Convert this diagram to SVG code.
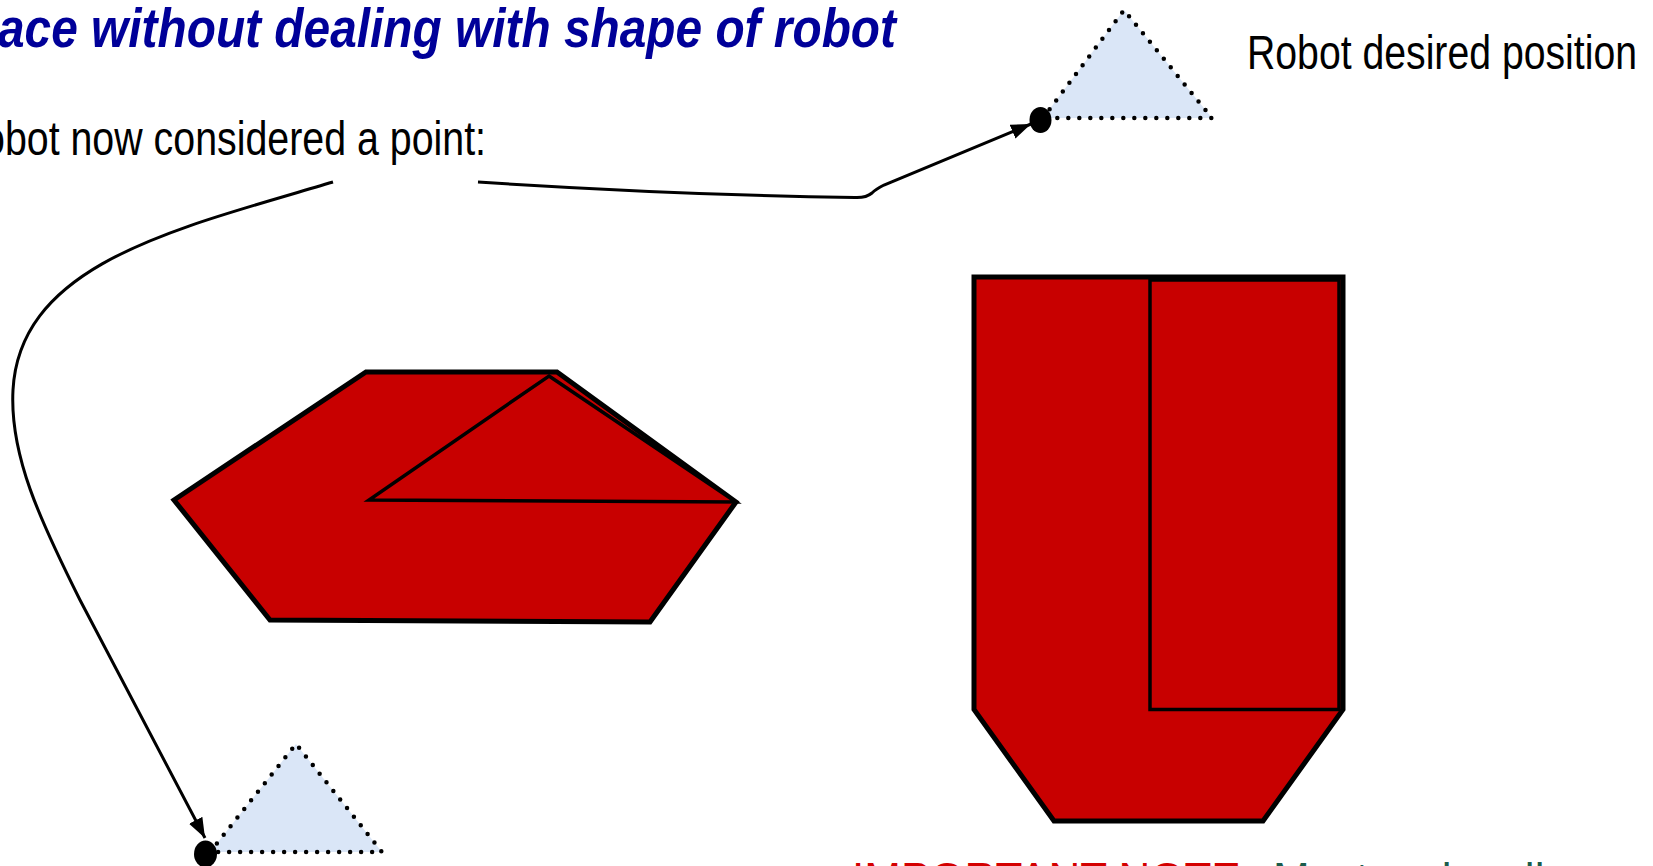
<svg xmlns="http://www.w3.org/2000/svg" width="1653" height="866" viewBox="0 0 1653 866">
<style>
.obst{fill:#C80000;stroke:#000;stroke-linejoin:miter}
.robot{fill:#DAE6F7;stroke:#000;stroke-width:4.5;stroke-dasharray:0 11;stroke-linecap:round}
.dot{fill:#000}
.conn{fill:none;stroke:#000;stroke-width:3}
.t{font-family:"Liberation Sans",Arial,sans-serif}
</style>
<defs>
<marker id="arr" markerUnits="userSpaceOnUse" markerWidth="24" markerHeight="18" refX="20" refY="7.5" orient="auto">
<path d="M0,0 L20,7.5 L0,15 Z" fill="#000"/>
</marker>
</defs>
<rect width="1653" height="866" fill="#fff"/>
<g id="title">
<text class="t" x="-2" y="47" font-size="56" font-weight="bold" font-style="italic" fill="#000099" textLength="898" lengthAdjust="spacingAndGlyphs">ace without dealing with shape of robot</text>
</g>
<g id="label-point">
<text class="t" x="-17" y="155" font-size="48" fill="#000" textLength="503" lengthAdjust="spacingAndGlyphs">obot now considered a point:</text>
</g>
<g id="label-desired">
<text class="t" x="1247" y="69" font-size="48" fill="#000" textLength="390" lengthAdjust="spacingAndGlyphs">Robot desired position</text>
</g>
<g id="obstacle-hexagon">
<polygon class="obst" stroke-width="5" points="366,372 557,372 736,502 650,622 270,620 174,500"/>
<polygon class="obst" stroke-width="3.5" points="549,376 736,502 369,500"/>
</g>
<g id="obstacle-u">
<polygon class="obst" stroke-width="5" points="974,277 1343,277 1343,709.5 1263,821 1054,821 974,709.5"/>
<rect class="obst" stroke-width="3.5" x="1150" y="280" width="189" height="429.5"/>
</g>
<g id="robot-desired">
<polygon class="robot" points="1043,118 1124,10 1212,118"/>
<ellipse class="dot" cx="1040.5" cy="120" rx="11" ry="13"/>
</g>
<g id="robot-start">
<polygon class="robot" points="210,852 296,744 382,852"/>
<ellipse class="dot" cx="205.5" cy="854" rx="11.5" ry="13.5"/>
</g>
<g id="connectors">
<path class="conn" marker-end="url(#arr)" d="M478,182 Q680,195 855,197.5 Q866,198 872,193 Q876,189 884,185 L1031,124"/>
<path class="conn" marker-end="url(#arr)" d="M333,182 C180,228 20,262 13,390 C9.5,455 40,520 80,600 L205,838"/>
</g>
<g id="note">
<text class="t" y="894" font-size="44"><tspan x="852" fill="#D40000">IMPORTANT NOTE:</tspan><tspan x="1273" fill="#1B5C4B">Must make allowance for robot</tspan></text>
</g>
</svg>
